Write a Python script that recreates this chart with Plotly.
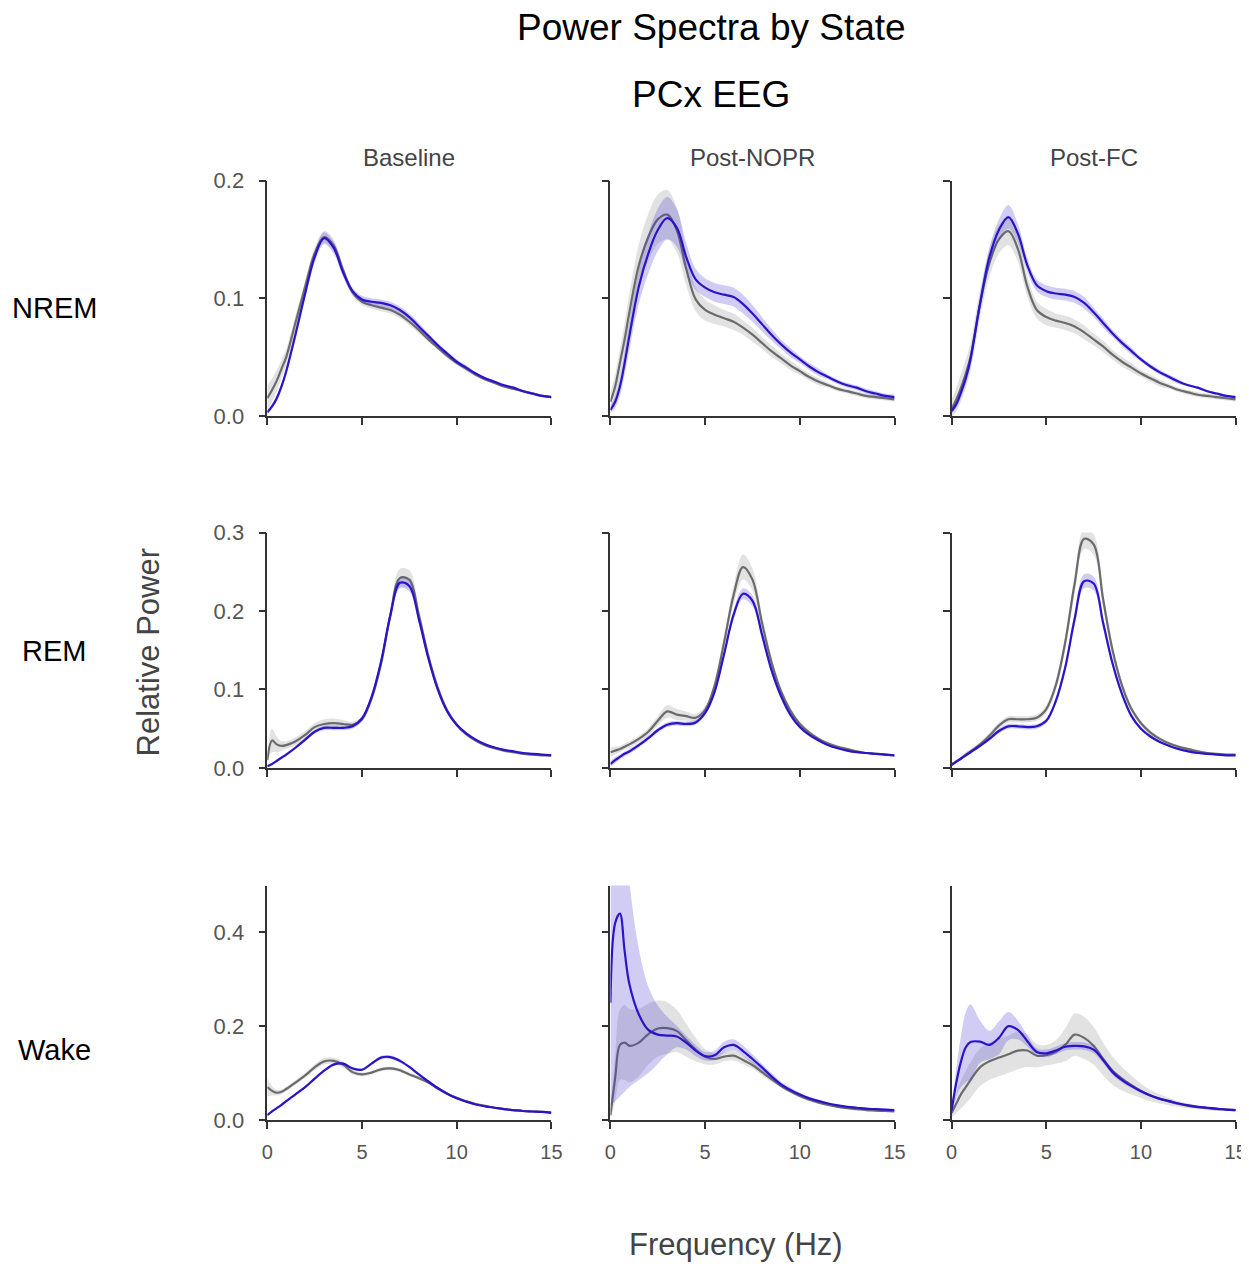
import plotly.graph_objects as go
from plotly.subplots import make_subplots

# frequency grid (Hz)
freq = [0, 0.25, 0.5, 0.75, 1, 1.5, 2, 2.5, 3, 3.5, 4, 4.5, 5, 5.5, 6, 6.5, 7, 7.5,
        8, 8.5, 9, 9.5, 10, 10.5, 11, 11.5, 12, 12.5, 13, 13.5, 14, 14.5, 15]

states = ["NREM", "REM", "Wake"]
conditions = ["Baseline", "Post-NOPR", "Post-FC"]

# ---- NREM ----
nrem_base_blue = [0.003, 0.008, 0.015, 0.025, 0.038, 0.070, 0.104, 0.135, 0.151, 0.143, 0.122, 0.106, 0.099, 0.097, 0.096, 0.094, 0.090,
                  0.084, 0.076, 0.068, 0.060, 0.053, 0.046, 0.041, 0.036, 0.032, 0.029, 0.026, 0.024, 0.021, 0.019, 0.017, 0.016]
nrem_base_blue_sem = [0.002, 0.002, 0.003, 0.003, 0.003, 0.004, 0.004, 0.005, 0.005, 0.005, 0.004, 0.003, 0.003, 0.003, 0.003, 0.003, 0.003,
                      0.003, 0.003, 0.002, 0.002, 0.002, 0.002, 0.002, 0.001, 0.001, 0.001, 0.001, 0.001, 0.001, 0.001, 0.001, 0.001]
nrem_base_gray = [0.015, 0.022, 0.030, 0.040, 0.050, 0.080, 0.110, 0.138, 0.152, 0.145, 0.124, 0.105, 0.097, 0.094, 0.092, 0.090, 0.086,
                  0.080, 0.073, 0.065, 0.058, 0.051, 0.045, 0.040, 0.035, 0.031, 0.028, 0.025, 0.023, 0.021, 0.019, 0.017, 0.016]
nrem_base_gray_sem = [0.010, 0.010, 0.009, 0.008, 0.007, 0.006, 0.005, 0.005, 0.005, 0.005, 0.004, 0.003, 0.003, 0.003, 0.003, 0.003, 0.003,
                      0.003, 0.003, 0.002, 0.002, 0.002, 0.002, 0.002, 0.001, 0.001, 0.001, 0.001, 0.001, 0.001, 0.001, 0.001, 0.001]

nrem_nopr_blue = [0.005, 0.012, 0.025, 0.045, 0.068, 0.110, 0.138, 0.158, 0.168, 0.160, 0.135, 0.116, 0.109, 0.105, 0.103, 0.101, 0.095,
                  0.087, 0.078, 0.069, 0.061, 0.054, 0.048, 0.042, 0.037, 0.033, 0.029, 0.026, 0.024, 0.021, 0.019, 0.017, 0.016]
nrem_nopr_blue_sem = [0.003, 0.005, 0.008, 0.010, 0.012, 0.015, 0.017, 0.018, 0.018, 0.016, 0.012, 0.009, 0.008, 0.008, 0.008, 0.008, 0.008,
                      0.007, 0.006, 0.005, 0.004, 0.004, 0.003, 0.003, 0.003, 0.002, 0.002, 0.002, 0.002, 0.002, 0.002, 0.002, 0.002]
nrem_nopr_gray = [0.012, 0.025, 0.045, 0.065, 0.088, 0.128, 0.152, 0.167, 0.171, 0.158, 0.125, 0.099, 0.090, 0.086, 0.083, 0.080, 0.075,
                  0.069, 0.062, 0.055, 0.049, 0.043, 0.038, 0.033, 0.029, 0.026, 0.023, 0.021, 0.019, 0.017, 0.016, 0.015, 0.014]
nrem_nopr_gray_sem = [0.008, 0.010, 0.012, 0.014, 0.016, 0.018, 0.020, 0.021, 0.021, 0.019, 0.014, 0.010, 0.009, 0.008, 0.007, 0.007, 0.006,
                      0.006, 0.005, 0.005, 0.004, 0.004, 0.003, 0.003, 0.003, 0.002, 0.002, 0.002, 0.002, 0.002, 0.002, 0.002, 0.002]

nrem_fc_blue = [0.004, 0.010, 0.020, 0.032, 0.048, 0.095, 0.135, 0.158, 0.169, 0.155, 0.128, 0.111, 0.106, 0.104, 0.103, 0.101, 0.096,
                0.088, 0.079, 0.070, 0.062, 0.055, 0.048, 0.042, 0.037, 0.033, 0.029, 0.026, 0.024, 0.021, 0.019, 0.017, 0.016]
nrem_fc_blue_sem = [0.002, 0.003, 0.004, 0.005, 0.006, 0.007, 0.008, 0.009, 0.010, 0.008, 0.006, 0.005, 0.005, 0.005, 0.005, 0.005, 0.005,
                    0.004, 0.004, 0.003, 0.003, 0.003, 0.002, 0.002, 0.002, 0.002, 0.002, 0.001, 0.001, 0.001, 0.001, 0.001, 0.001]
nrem_fc_gray = [0.006, 0.014, 0.024, 0.036, 0.050, 0.095, 0.130, 0.150, 0.157, 0.142, 0.110, 0.090, 0.084, 0.081, 0.079, 0.076, 0.071,
                0.065, 0.059, 0.052, 0.046, 0.041, 0.036, 0.032, 0.028, 0.025, 0.022, 0.020, 0.018, 0.017, 0.016, 0.015, 0.014]
nrem_fc_gray_sem = [0.008, 0.010, 0.012, 0.012, 0.012, 0.012, 0.012, 0.012, 0.012, 0.011, 0.009, 0.007, 0.007, 0.006, 0.006, 0.006, 0.006,
                    0.005, 0.005, 0.004, 0.004, 0.004, 0.003, 0.003, 0.003, 0.002, 0.002, 0.002, 0.002, 0.002, 0.002, 0.002, 0.002]

# ---- REM ----
rem_base_blue = [0.002, 0.005, 0.009, 0.013, 0.017, 0.026, 0.036, 0.046, 0.051, 0.051, 0.051, 0.053, 0.063, 0.090, 0.135, 0.195, 0.236,
                 0.232, 0.190, 0.140, 0.100, 0.072, 0.055, 0.044, 0.036, 0.030, 0.026, 0.023, 0.021, 0.019, 0.018, 0.017, 0.016]
rem_base_blue_sem = [0.001, 0.001, 0.002, 0.002, 0.002, 0.002, 0.002, 0.002, 0.003, 0.003, 0.003, 0.003, 0.003, 0.004, 0.005, 0.006, 0.007,
                     0.007, 0.006, 0.005, 0.004, 0.003, 0.002, 0.002, 0.002, 0.001, 0.001, 0.001, 0.001, 0.001, 0.001, 0.001, 0.001]
rem_base_gray = [0.010, 0.035, 0.030, 0.028, 0.029, 0.034, 0.042, 0.052, 0.056, 0.057, 0.056, 0.055, 0.062, 0.088, 0.132, 0.195, 0.242,
                 0.240, 0.195, 0.143, 0.102, 0.073, 0.055, 0.043, 0.035, 0.029, 0.025, 0.022, 0.020, 0.018, 0.017, 0.016, 0.016]
rem_base_gray_sem = [0.005, 0.015, 0.010, 0.006, 0.005, 0.005, 0.005, 0.005, 0.006, 0.006, 0.005, 0.004, 0.004, 0.005, 0.007, 0.009, 0.012,
                     0.012, 0.009, 0.006, 0.005, 0.004, 0.003, 0.003, 0.002, 0.002, 0.002, 0.002, 0.002, 0.001, 0.001, 0.001, 0.001]

rem_nopr_blue = [0.005, 0.010, 0.014, 0.018, 0.021, 0.029, 0.038, 0.048, 0.055, 0.057, 0.056, 0.058, 0.070, 0.097, 0.145, 0.195, 0.222,
                 0.213, 0.170, 0.125, 0.092, 0.068, 0.052, 0.042, 0.035, 0.029, 0.025, 0.022, 0.020, 0.019, 0.018, 0.017, 0.016]
rem_nopr_blue_sem = [0.004, 0.004, 0.003, 0.003, 0.003, 0.003, 0.003, 0.003, 0.003, 0.003, 0.003, 0.003, 0.003, 0.004, 0.005, 0.006, 0.007,
                     0.007, 0.006, 0.005, 0.004, 0.003, 0.002, 0.002, 0.002, 0.001, 0.001, 0.001, 0.001, 0.001, 0.001, 0.001, 0.001]
rem_nopr_gray = [0.020, 0.022, 0.024, 0.027, 0.030, 0.037, 0.046, 0.060, 0.072, 0.068, 0.066, 0.064, 0.074, 0.105, 0.160, 0.220, 0.256,
                 0.240, 0.185, 0.135, 0.098, 0.073, 0.056, 0.045, 0.037, 0.031, 0.027, 0.024, 0.021, 0.019, 0.018, 0.017, 0.016]
rem_nopr_gray_sem = [0.006, 0.005, 0.004, 0.004, 0.004, 0.004, 0.005, 0.006, 0.008, 0.007, 0.006, 0.005, 0.005, 0.006, 0.008, 0.012, 0.016,
                     0.014, 0.010, 0.007, 0.005, 0.004, 0.003, 0.003, 0.002, 0.002, 0.002, 0.002, 0.002, 0.001, 0.001, 0.001, 0.001]

rem_fc_blue = [0.004, 0.008, 0.012, 0.016, 0.020, 0.028, 0.037, 0.047, 0.053, 0.053, 0.052, 0.053, 0.060, 0.085, 0.128, 0.190, 0.238,
               0.235, 0.185, 0.133, 0.094, 0.066, 0.050, 0.040, 0.033, 0.028, 0.024, 0.021, 0.019, 0.018, 0.017, 0.016, 0.016]
rem_fc_blue_sem = [0.002, 0.002, 0.002, 0.002, 0.002, 0.002, 0.002, 0.003, 0.003, 0.003, 0.003, 0.003, 0.003, 0.004, 0.006, 0.008, 0.009,
                   0.009, 0.007, 0.005, 0.004, 0.003, 0.002, 0.002, 0.002, 0.001, 0.001, 0.001, 0.001, 0.001, 0.001, 0.001, 0.001]
rem_fc_gray = [0.004, 0.008, 0.012, 0.017, 0.021, 0.030, 0.041, 0.054, 0.062, 0.062, 0.062, 0.064, 0.075, 0.105, 0.160, 0.235, 0.292,
               0.285, 0.215, 0.150, 0.105, 0.075, 0.057, 0.045, 0.037, 0.031, 0.027, 0.024, 0.021, 0.019, 0.018, 0.017, 0.017]
rem_fc_gray_sem = [0.002, 0.002, 0.002, 0.003, 0.003, 0.003, 0.004, 0.004, 0.004, 0.004, 0.004, 0.004, 0.005, 0.007, 0.009, 0.011, 0.013,
                   0.013, 0.010, 0.007, 0.005, 0.004, 0.003, 0.003, 0.002, 0.002, 0.002, 0.002, 0.002, 0.001, 0.001, 0.001, 0.001]

# ---- Wake ----
wake_base_blue = [0.010, 0.018, 0.025, 0.032, 0.040, 0.055, 0.070, 0.088, 0.105, 0.118, 0.120, 0.110, 0.107, 0.120, 0.133, 0.134, 0.126,
                  0.113, 0.097, 0.082, 0.068, 0.056, 0.046, 0.039, 0.033, 0.029, 0.026, 0.023, 0.021, 0.019, 0.018, 0.017, 0.015]
wake_base_blue_sem = [0.002, 0.002, 0.002, 0.002, 0.002, 0.003, 0.003, 0.003, 0.003, 0.003, 0.003, 0.003, 0.003, 0.003, 0.004, 0.004, 0.004,
                      0.003, 0.003, 0.003, 0.002, 0.002, 0.002, 0.002, 0.001, 0.001, 0.001, 0.001, 0.001, 0.001, 0.001, 0.001, 0.001]
wake_base_gray = [0.070, 0.062, 0.058, 0.060, 0.066, 0.080, 0.095, 0.112, 0.125, 0.126, 0.118, 0.102, 0.097, 0.101, 0.108, 0.110, 0.106,
                  0.097, 0.089, 0.080, 0.067, 0.056, 0.047, 0.040, 0.034, 0.030, 0.026, 0.023, 0.021, 0.019, 0.018, 0.017, 0.016]
wake_base_gray_sem = [0.020, 0.010, 0.006, 0.005, 0.005, 0.005, 0.005, 0.006, 0.007, 0.007, 0.006, 0.005, 0.004, 0.004, 0.004, 0.004, 0.004,
                      0.004, 0.004, 0.003, 0.003, 0.003, 0.002, 0.002, 0.002, 0.002, 0.002, 0.002, 0.002, 0.002, 0.002, 0.002, 0.002]

wake_nopr_blue = [0.250, 0.420, 0.440, 0.360, 0.290, 0.225, 0.192, 0.182, 0.180, 0.178, 0.165, 0.148, 0.136, 0.138, 0.155, 0.160, 0.147,
                  0.130, 0.112, 0.093, 0.076, 0.064, 0.054, 0.046, 0.040, 0.035, 0.031, 0.028, 0.026, 0.024, 0.023, 0.022, 0.021]
wake_nopr_blue_sem = [0.220, 0.380, 0.390, 0.300, 0.220, 0.140, 0.092, 0.062, 0.040, 0.023, 0.015, 0.012, 0.009, 0.010, 0.012, 0.012, 0.011,
                      0.010, 0.008, 0.007, 0.006, 0.005, 0.004, 0.003, 0.003, 0.002, 0.002, 0.002, 0.002, 0.002, 0.002, 0.002, 0.002]
wake_nopr_gray = [0.010, 0.090, 0.160, 0.165, 0.158, 0.165, 0.183, 0.195, 0.196, 0.190, 0.170, 0.150, 0.135, 0.130, 0.135, 0.137, 0.128,
                  0.117, 0.102, 0.087, 0.073, 0.061, 0.051, 0.043, 0.037, 0.032, 0.028, 0.025, 0.023, 0.021, 0.020, 0.019, 0.018]
wake_nopr_gray_sem = [0.010, 0.050, 0.075, 0.080, 0.078, 0.072, 0.065, 0.060, 0.055, 0.045, 0.035, 0.025, 0.016, 0.012, 0.010, 0.010, 0.009,
                      0.008, 0.007, 0.006, 0.005, 0.004, 0.004, 0.003, 0.003, 0.003, 0.002, 0.002, 0.002, 0.002, 0.002, 0.002, 0.002]

wake_fc_blue = [0.020, 0.080, 0.125, 0.155, 0.166, 0.167, 0.160, 0.175, 0.200, 0.192, 0.168, 0.145, 0.142, 0.148, 0.156, 0.158, 0.157,
                0.150, 0.128, 0.102, 0.085, 0.072, 0.061, 0.052, 0.045, 0.040, 0.035, 0.031, 0.028, 0.026, 0.024, 0.022, 0.021]
wake_fc_blue_sem = [0.010, 0.030, 0.055, 0.075, 0.080, 0.045, 0.030, 0.035, 0.030, 0.020, 0.012, 0.008, 0.008, 0.008, 0.008, 0.008, 0.008,
                    0.008, 0.007, 0.006, 0.005, 0.004, 0.004, 0.003, 0.003, 0.003, 0.002, 0.002, 0.002, 0.002, 0.002, 0.002, 0.002]
wake_fc_gray = [0.015, 0.035, 0.055, 0.070, 0.085, 0.112, 0.125, 0.133, 0.140, 0.148, 0.148, 0.137, 0.138, 0.145, 0.160, 0.182, 0.175,
                0.158, 0.130, 0.105, 0.088, 0.074, 0.062, 0.052, 0.045, 0.039, 0.034, 0.030, 0.027, 0.025, 0.023, 0.022, 0.021]
wake_fc_gray_sem = [0.010, 0.020, 0.030, 0.035, 0.038, 0.040, 0.040, 0.040, 0.040, 0.040, 0.035, 0.025, 0.022, 0.025, 0.035, 0.045, 0.045,
                    0.040, 0.035, 0.030, 0.025, 0.020, 0.015, 0.012, 0.010, 0.008, 0.006, 0.005, 0.004, 0.003, 0.003, 0.003, 0.003]

panels = [
    [(nrem_base_gray, nrem_base_gray_sem, nrem_base_blue, nrem_base_blue_sem),
     (nrem_nopr_gray, nrem_nopr_gray_sem, nrem_nopr_blue, nrem_nopr_blue_sem),
     (nrem_fc_gray, nrem_fc_gray_sem, nrem_fc_blue, nrem_fc_blue_sem)],
    [(rem_base_gray, rem_base_gray_sem, rem_base_blue, rem_base_blue_sem),
     (rem_nopr_gray, rem_nopr_gray_sem, rem_nopr_blue, rem_nopr_blue_sem),
     (rem_fc_gray, rem_fc_gray_sem, rem_fc_blue, rem_fc_blue_sem)],
    [(wake_base_gray, wake_base_gray_sem, wake_base_blue, wake_base_blue_sem),
     (wake_nopr_gray, wake_nopr_gray_sem, wake_nopr_blue, wake_nopr_blue_sem),
     (wake_fc_gray, wake_fc_gray_sem, wake_fc_blue, wake_fc_blue_sem)],
]

y_max = [0.2, 0.3, 0.5]
y_ticks = [[0.0, 0.1, 0.2], [0.0, 0.1, 0.2, 0.3], [0.0, 0.2, 0.4]]
x_ticks = [0, 5, 10, 15]

W, H = 1249, 1266
col_px = [(267, 551), (610, 894), (951, 1235)]
row_px = [(180, 416), (533, 769), (887, 1122)]


# page positions -> paper fractions (the rendered page comes out slightly shrunk/offset)
def fx(px):
    return (px - 13.8) / 0.986 / W


def fy(py):
    return 1 - (py - 19) / 0.983 / H


GRAY = "#6b6b6b"
GRAY_FILL = "rgba(150,150,150,0.28)"
BLUE = "#2a14c8"
BLUE_FILL = "rgba(70,50,210,0.25)"
AX = "#333333"
TXT = "#555555"
FONT = "Liberation Sans, Arial"

fig = make_subplots(rows=3, cols=3)


def add_band(mean, sem, line_col, fill_col, r, c):
    lo = [m - s for m, s in zip(mean, sem)]
    hi = [m + s for m, s in zip(mean, sem)]
    fig.add_trace(go.Scatter(x=freq, y=lo, mode="lines", line=dict(width=0, shape="spline"),
                             hoverinfo="skip", showlegend=False), row=r, col=c)
    fig.add_trace(go.Scatter(x=freq, y=hi, mode="lines", line=dict(width=0, shape="spline"),
                             fill="tonexty", fillcolor=fill_col, hoverinfo="skip", showlegend=False), row=r, col=c)
    fig.add_trace(go.Scatter(x=freq, y=mean, mode="lines", line=dict(color=line_col, width=2.2, shape="spline"),
                             showlegend=False), row=r, col=c)


for i in range(3):
    for j in range(3):
        g, gs, b, bs = panels[i][j]
        add_band(g, gs, GRAY, GRAY_FILL, i + 1, j + 1)
        add_band(b, bs, BLUE, BLUE_FILL, i + 1, j + 1)

        fig.update_xaxes(row=i + 1, col=j + 1,
                         domain=[fx(col_px[j][0]), fx(col_px[j][1])],
                         range=[0, 15], tickvals=x_ticks, showticklabels=(i == 2),
                         showline=True, linecolor=AX, linewidth=1.5,
                         ticks="outside", ticklen=7, tickwidth=1.5, tickcolor=AX,
                         ticklabelstandoff=6,
                         showgrid=False, zeroline=False,
                         tickfont=dict(family=FONT, size=20, color=TXT))
        fig.update_yaxes(row=i + 1, col=j + 1,
                         domain=[fy(row_px[i][1]), fy(row_px[i][0])],
                         range=[0, y_max[i]], tickvals=y_ticks[i], tickformat=".1f",
                         showticklabels=(j == 0),
                         showline=True, linecolor=AX, linewidth=1.5,
                         ticks="outside", ticklen=7, tickwidth=1.5, tickcolor=AX,
                         ticklabelstandoff=10,
                         showgrid=False, zeroline=False,
                         tickfont=dict(family=FONT, size=22, color=TXT))

annots = []
annots.append(dict(text="Power Spectra by State", x=fx(711), y=fy(27), font=dict(size=37, color="black")))
annots.append(dict(text="PCx EEG", x=fx(711), y=fy(94), font=dict(size=37, color="black")))
for j, cond in enumerate(conditions):
    cx = fx((col_px[j][0] + col_px[j][1]) / 2)
    annots.append(dict(text=cond, x=cx, y=fy(157), font=dict(size=24, color="#444444")))
row_label_y = [308, 652, 1052]
for i, st in enumerate(states):
    annots.append(dict(text=st, x=fx(54), y=fy(row_label_y[i]), font=dict(size=29, color="black")))
annots.append(dict(text="Relative Power", x=fx(148), y=fy(653), textangle=-90,
                   font=dict(size=31, color="#444444")))
annots.append(dict(text="Frequency (Hz)", x=fx(736), y=fy(1247), font=dict(size=31, color="#444444")))

for a in annots:
    a.update(xref="paper", yref="paper", showarrow=False, xanchor="center", yanchor="middle")
    a["font"]["family"] = FONT

fig.update_layout(width=W, height=H, margin=dict(l=0, r=0, t=0, b=0),
                  plot_bgcolor="white", paper_bgcolor="white",
                  annotations=annots, showlegend=False)

fig.write_html("out.html")
